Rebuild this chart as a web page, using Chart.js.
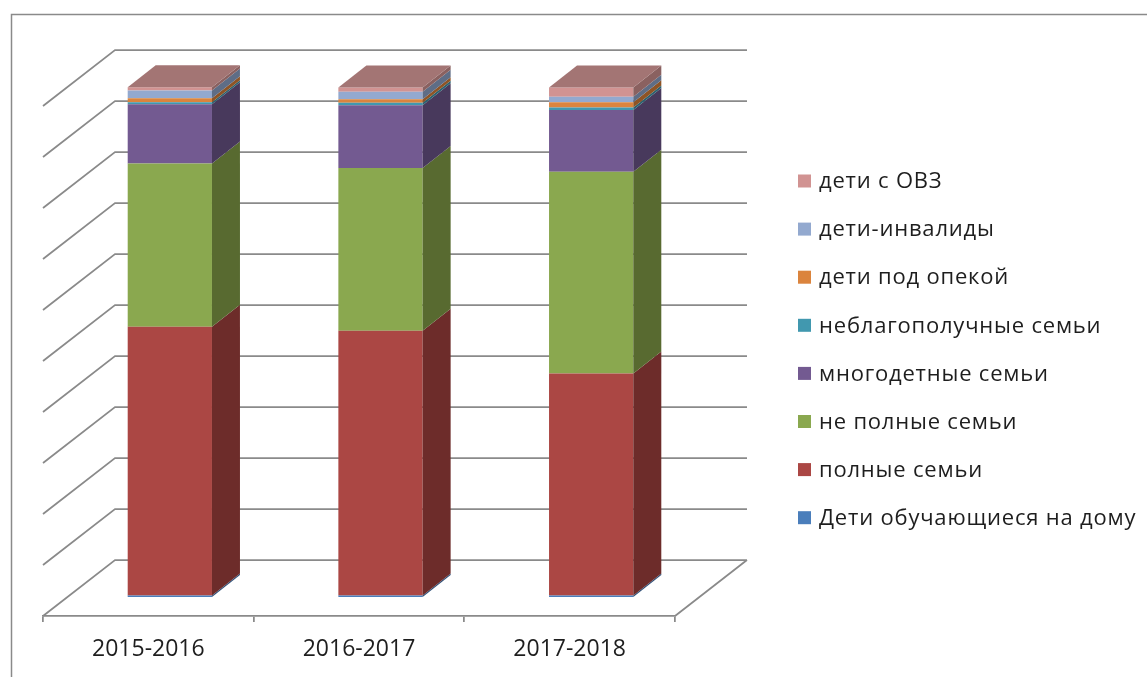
<!DOCTYPE html>
<html>
<head>
<meta charset="utf-8">
<script src="https://cdn.jsdelivr.net/npm/chart.js@4.4.1/dist/chart.umd.min.js"></script>
<style>
  html, body { margin: 0; padding: 0; background: #fff; }
  canvas { display: block; }
</style>
</head>
<body>
<canvas id="myChart" width="1147" height="677"></canvas>
<script>
// categories (school years)
const years = ["2015-2016", "2016-2017", "2017-2018"];

// series values, % of pupils
const homeSchooled = [0.3, 0.3, 0.3];
const fullFamilies = [52.7, 51.9, 43.5];
const singleParent = [32.0, 31.9, 39.6];
const largeFamilies = [11.6, 12.3, 12.1];
const troubledFamilies = [0.4, 0.5, 0.5];
const underGuardianship = [0.8, 0.7, 1.0];
const disabledKids = [1.5, 1.45, 1.1];
const ovzKids = [0.65, 0.85, 1.8];

const gridValues = [0, 10, 20, 30, 40, 50, 60, 70, 80, 90, 100];

// front colour, side colour, top colour
const palette = [
  ["#4A7EBB", "#2F5078", "#3C6597"],
  ["#AB4744", "#6D2C2A", "#8A3A37"],
  ["#8AA84F", "#586A30", "#708A40"],
  ["#735A91", "#48395C", "#5D4A76"],
  ["#4198AF", "#2A6170", "#357C8F"],
  ["#DB843D", "#8E5425", "#B36C31"],
  ["#93A9CF", "#5E6D86", "#7888A8"],
  ["#D19392", "#8A6160", "#A37574"]
];

const WALL_DX = 72, WALL_DY = -56;   // depth of floor / side wall
const BAR_DX = 21.5, BAR_DY = -19;   // where the bars stand inside the depth
const SIDE_DX = 28, SIDE_DY = -22;   // depth of each column
const lineColor = "#8a8a8a";
const textColor = "#1e1e1e";
const fontFamily = "'Open Sans', 'DejaVu Sans', sans-serif";

const threeD = {
  id: "threeD",
  beforeDraw(chart) {
    const ctx = chart.ctx;
    ctx.save();
    ctx.fillStyle = "#fff";
    ctx.fillRect(0, 0, chart.width, chart.height);
    ctx.strokeStyle = lineColor;
    ctx.lineWidth = 1.5;
    ctx.strokeRect(11.5, 14.5, chart.width + 20, chart.height + 20);
    ctx.restore();
  },
  beforeDatasetsDraw(chart) {
    const ctx = chart.ctx;
    const a = chart.chartArea;
    const y = chart.scales.y;
    ctx.save();
    ctx.strokeStyle = lineColor;
    ctx.lineWidth = 1.75;
    ctx.beginPath();
    gridValues.forEach((v) => {
      const py = y.getPixelForValue(v);
      // side wall
      ctx.moveTo(a.left, py);
      ctx.lineTo(a.left + WALL_DX, py + WALL_DY);
      // back wall
      ctx.lineTo(a.right + WALL_DX, py + WALL_DY);
    });
    // floor right edge
    ctx.moveTo(a.right, a.bottom);
    ctx.lineTo(a.right + WALL_DX, a.bottom + WALL_DY);
    ctx.stroke();
    ctx.restore();

    // columns are drawn inside the depth of the floor
    ctx.save();
    ctx.translate(BAR_DX, BAR_DY);
  },
  afterDatasetsDraw(chart) {
    const ctx = chart.ctx;
    const n = chart.data.datasets.length;
    for (let i = 0; i < n; i++) {
      const meta = chart.getDatasetMeta(i);
      meta.data.forEach((bar) => {
        const p = bar.getProps(["x", "y", "base", "width"], true);
        const right = p.x + p.width / 2;
        const top = Math.min(p.y, p.base);
        const bottom = Math.max(p.y, p.base);
        ctx.fillStyle = palette[i][1];
        ctx.beginPath();
        ctx.moveTo(right, top);
        ctx.lineTo(right + SIDE_DX, top + SIDE_DY);
        ctx.lineTo(right + SIDE_DX, bottom + SIDE_DY);
        ctx.lineTo(right, bottom);
        ctx.closePath();
        ctx.fill();
        if (i === n - 1) {
          const left = p.x - p.width / 2;
          ctx.fillStyle = palette[i][2];
          ctx.beginPath();
          ctx.moveTo(left, top);
          ctx.lineTo(left + SIDE_DX, top + SIDE_DY);
          ctx.lineTo(right + SIDE_DX, top + SIDE_DY);
          ctx.lineTo(right, top);
          ctx.closePath();
          ctx.fill();
        }
      });
    }
    ctx.restore();
  },
  afterDraw(chart) {
    // legend, last series on top
    const ctx = chart.ctx;
    const ds = chart.data.datasets;
    ctx.save();
    ctx.font = "22px " + fontFamily;
    ctx.letterSpacing = "0.8px";
    ctx.textBaseline = "middle";
    for (let k = 0; k < ds.length; k++) {
      const i = ds.length - 1 - k;
      const cy = 181 + k * 48.1;
      ctx.fillStyle = palette[i][0];
      ctx.fillRect(798, cy - 6.5, 13, 13);
      ctx.fillStyle = textColor;
      ctx.fillText(ds[i].label, 819, cy + 1);
    }
    ctx.restore();
  }
};

function makeSet(label, data, i) {
  return {
    label: label,
    data: data,
    backgroundColor: palette[i][0],
    borderWidth: 0,
    categoryPercentage: 1,
    barPercentage: 0.4
  };
}

const ctx = document.getElementById("myChart").getContext("2d");
new Chart(ctx, {
  type: "bar",
  data: {
    labels: years,
    datasets: [
      makeSet("Дети обучающиеся на дому", homeSchooled, 0),
      makeSet("полные семьи", fullFamilies, 1),
      makeSet("не полные семьи", singleParent, 2),
      makeSet("многодетные семьи", largeFamilies, 3),
      makeSet("неблагополучные семьи", troubledFamilies, 4),
      makeSet("дети под опекой", underGuardianship, 5),
      makeSet("дети-инвалиды", disabledKids, 6),
      makeSet("дети с ОВЗ", ovzKids, 7)
    ]
  },
  options: {
    responsive: false,
    animation: false,
    events: [],
    layout: { padding: { left: 43, right: 472, top: 106, bottom: 0 } },
    scales: {
      x: {
        stacked: true,
        afterFit: (scale) => { scale.height = 61; },
        grid: {
          display: true,
          drawOnChartArea: false,
          drawTicks: true,
          tickLength: 6,
          color: lineColor,
          lineWidth: 1.75
        },
        border: { display: true, color: lineColor, width: 1.75 },
        ticks: {
          color: textColor,
          padding: 14,
          font: { family: fontFamily, size: 23 }
        }
      },
      y: {
        stacked: true,
        display: false,
        min: 0,
        max: 100
      }
    },
    plugins: {
      legend: { display: false },
      tooltip: { enabled: false }
    }
  },
  plugins: [threeD]
});
</script>
</body>
</html>
